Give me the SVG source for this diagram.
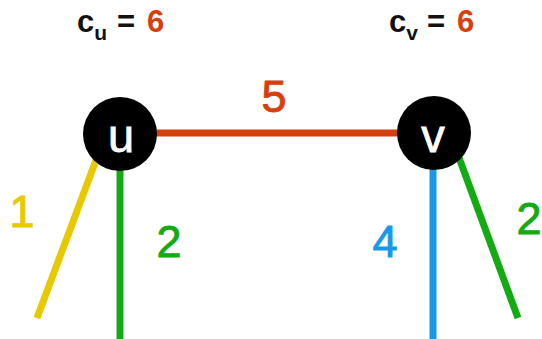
<svg xmlns="http://www.w3.org/2000/svg" width="542" height="339" viewBox="0 0 542 339">
<style>
text{font-family:"Liberation Sans",Arial,sans-serif}
.e{stroke-width:7;fill:none}
.lbl{font-size:45px;stroke-width:0.9;text-anchor:middle}
.top{font-size:31px;font-weight:bold;fill:#111}
.sub{font-size:21px}
.nl{font-size:47px;fill:#fff;stroke:#fff;stroke-width:0.8;text-anchor:middle}
.red{fill:#d6400c}
</style>
<rect width="542" height="339" fill="#fff"/>
<g id="connectors">
<line class="e" x1="150" y1="133" x2="405" y2="133" stroke="#d6400c"/>
<line class="e" x1="98" y1="155" x2="37" y2="318" stroke="#e8c800"/>
<line class="e" x1="120" y1="160" x2="120" y2="339" stroke="#14aa14"/>
<line class="e" x1="433" y1="160" x2="433" y2="339" stroke="#1a98e8"/>
<line class="e" x1="458" y1="155" x2="518" y2="318" stroke="#14aa14"/>
</g>
<g id="node-u">
<circle cx="120" cy="134" r="37" fill="#000"/>
<text class="nl" x="121" y="152">u</text>
</g>
<g id="node-v">
<circle cx="434" cy="133" r="37" fill="#000"/>
<text class="nl" x="433" y="152">v</text>
</g>
<g id="labels">
<text class="lbl" x="274" y="112" fill="#d6400c" stroke="#d6400c">5</text>
<text class="lbl" x="22" y="227" fill="#e8c800" stroke="#e8c800">1</text>
<text class="lbl" x="169" y="257" fill="#14aa14" stroke="#14aa14">2</text>
<text class="lbl" x="385" y="257" fill="#1a98e8" stroke="#1a98e8">4</text>
<text class="lbl" x="529" y="234" fill="#14aa14" stroke="#14aa14">2</text>
<text class="top" x="77" y="32">c<tspan class="sub" dy="8">u</tspan><tspan x="117" y="32">=</tspan><tspan class="red" x="147" y="32">6</tspan></text>
<text class="top" x="389" y="32">c<tspan class="sub" dy="8">v</tspan><tspan x="427" y="32">=</tspan><tspan class="red" x="457" y="32">6</tspan></text>
</g>
</svg>
